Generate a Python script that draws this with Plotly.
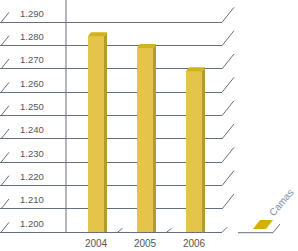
import plotly.graph_objects as go

# ---- data ----
CATEGORIES = ["2004", "2005", "2006"]
SERIES_NAME = "Camas"
VALUES = [1284, 1279, 1269]
TICK_VALUES = [1200, 1210, 1220, 1230, 1240, 1250, 1260, 1270, 1280, 1290]
TICK_LABELS = ["1.200", "1.210", "1.220", "1.230", "1.240",
               "1.250", "1.260", "1.270", "1.280", "1.290"]
BASE = 1200

# ---- layout constants (pixels) ----
W, H = 298, 251
X_DOM_PX = 222          # right edge of the front plane
CAT0_PX, CAT_STEP = 96, 49
Y_BASE_PX = 232.3       # pixel row of 1.200 (from top)
PPU = 23.33 / 10        # pixels per unit on y
BAR_W_PX = 16
DEPTH_DX, DEPTH_DY = 3, 4

FRONT = "#E4C44A"
TOP = "#D2B31C"
SIDE = "#B39A32"
GRID = "#666d7c"
LABEL = "#555555"

x_range = [(0 - CAT0_PX) / CAT_STEP, (X_DOM_PX - CAT0_PX) / CAT_STEP]
y_top = BASE + Y_BASE_PX / PPU
y_dom0 = (H - Y_BASE_PX) / H

ux = 1 / CAT_STEP   # data units per px on x
uy = 1 / PPU        # data units per px on y

fig = go.Figure()
xs = list(range(len(CATEGORIES)))
bw = BAR_W_PX * ux
fig.add_trace(go.Bar(
    x=xs, y=[v - BASE for v in VALUES], base=BASE, width=bw,
    marker=dict(color=FRONT, line=dict(width=0)), name=SERIES_NAME,
    showlegend=False, customdata=VALUES,
    hovertemplate="%{customdata}<extra></extra>"))

for i, v in zip(xs, VALUES):
    l, r = i - bw / 2, i + bw / 2
    ddx, ddy = DEPTH_DX * ux, DEPTH_DY * uy
    # side face
    fig.add_trace(go.Scatter(
        x=[r, r, r + ddx, r + ddx, r], y=[BASE, v, v + ddy, BASE, BASE],
        fill="toself", fillcolor=SIDE, line=dict(width=0), mode="lines",
        showlegend=False, hoverinfo="skip"))
    # top face
    fig.add_trace(go.Scatter(
        x=[l, r, r + ddx, l + ddx, l], y=[v, v, v + ddy, v + ddy, v],
        fill="toself", fillcolor=TOP, line=dict(width=0), mode="lines",
        showlegend=False, hoverinfo="skip"))

shapes = []
def line(x0, y0, x1, y1, **kw):
    d = dict(type="line", x0=x0, y0=y0, x1=x1, y1=y1, xref="paper", yref="y",
             line=dict(color=GRID, width=1), layer="below")
    d.update(kw)
    shapes.append(d)

for t in TICK_VALUES:
    # left little slant
    line(1 / W, t, 9 / W, t + 10 * uy)
    # right back slant
    if t == BASE:
        line(X_DOM_PX / W, t, (X_DOM_PX + 5) / W, t + 5 * uy)
    else:
        line(X_DOM_PX / W, t, (X_DOM_PX + 12) / W, t + 15 * uy)

# vertical wall line
line(66 / W, BASE, 66 / W, y_top)

# floor ticks between categories
for i in range(len(CATEGORIES) - 1):
    mid_px = CAT0_PX + (i + 0.5) * CAT_STEP
    line((mid_px - 3) / W, BASE, (mid_px + 2) / W, BASE + 4 * uy)

# ---- legend ----
def px(x, y):
    return x / W, 1 - y / H

lx0, ly = px(238, 232.7)
lx1, _ = px(273, 232.7)
shapes.append(dict(type="line", xref="paper", yref="paper", x0=lx0, y0=ly, x1=lx1, y1=ly,
                   line=dict(color=GRID, width=1)))
sx, sy = px(280, 224)
shapes.append(dict(type="line", xref="paper", yref="paper", x0=lx1, y0=ly, x1=sx, y1=sy,
                   line=dict(color=GRID, width=1)))
pts = [px(253, 229), px(266, 229), px(273, 220), px(260, 220)]
path = "M " + " L ".join(f"{a},{b}" for a, b in pts) + " Z"
shapes.append(dict(type="path", xref="paper", yref="paper", path=path,
                   fillcolor="#D4B000", line=dict(width=0)))

tx, ty = px(281, 202)
annotations = [dict(text=SERIES_NAME, x=tx, y=ty, xref="paper", yref="paper",
                    xanchor="center", yanchor="middle",
                    showarrow=False, textangle=-50,
                    font=dict(family="Liberation Sans", size=10, color="#7d8ea3"))]

fig.update_layout(
    width=W, height=H, margin=dict(l=0, r=0, t=0, b=0),
    paper_bgcolor="white", plot_bgcolor="white",
    shapes=shapes, annotations=annotations, showlegend=False,
    bargap=0,
    xaxis=dict(domain=[0, X_DOM_PX / W], range=x_range, tickvals=xs, ticktext=CATEGORIES,
               showgrid=False, zeroline=False, showline=True, linecolor=GRID, linewidth=1,
               ticks="", ticklabelstandoff=2,
               tickfont=dict(family="Liberation Sans", size=10, color=LABEL)),
    yaxis=dict(domain=[y_dom0, 1], range=[BASE, y_top], tickvals=TICK_VALUES,
               ticktext=TICK_LABELS, showgrid=True, gridcolor=GRID, gridwidth=1,
               zeroline=False, showline=False, ticks="",
               ticklabelposition="inside", ticklabelstandoff=17, ticklabelshift=-9,
               tickfont=dict(family="Liberation Sans", size=9.5, color=LABEL)),
)

fig.write_html("out.html")
